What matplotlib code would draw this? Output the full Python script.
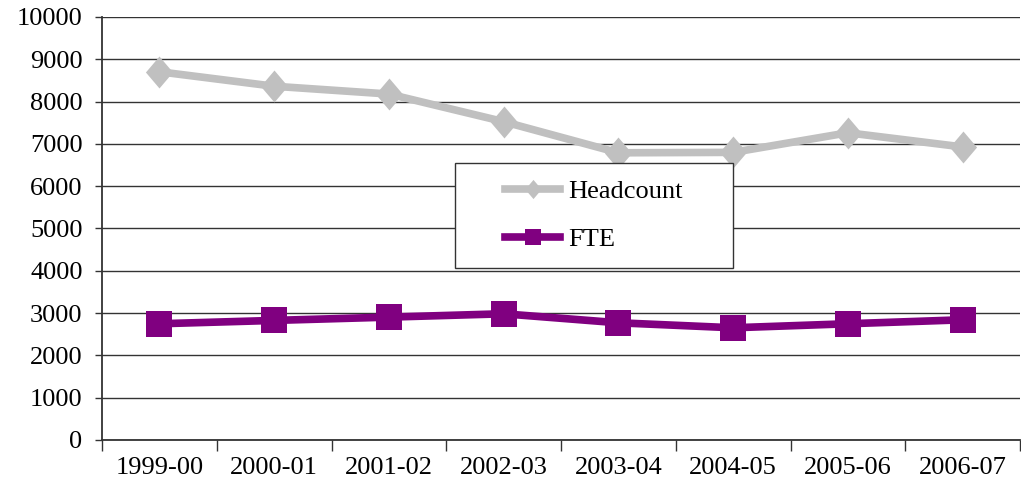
import matplotlib
matplotlib.use("Agg")
import matplotlib.pyplot as plt
from matplotlib.ticker import FixedLocator
from matplotlib.patches import Rectangle
from matplotlib.path import Path

categories = ["1999-00", "2000-01", "2001-02", "2002-03", "2003-04", "2004-05", "2005-06", "2006-07"]
headcount = [8705, 8363, 8179, 7526, 6790, 6800, 7263, 6928]
fte = [2748, 2827, 2905, 2984, 2771, 2653, 2748, 2842]
yticks = list(range(0, 10001, 1000))

plt.rcParams['font.family'] = ['Liberation Serif', 'DejaVu Serif']
FS = 19

diamond = Path([(0, 1), (0.85, 0), (0, -1), (-0.85, 0), (0, 1)],
               [Path.MOVETO, Path.LINETO, Path.LINETO, Path.LINETO, Path.CLOSEPOLY])

fig = plt.figure(figsize=(10.21, 4.93), dpi=100)
ax = fig.add_axes([102/1021, 1 - 440/493, (1020-102)/1021, (440-17)/493])

x = list(range(len(categories)))
ax.plot(x, headcount, color="#C0C0C0", lw=5.5, marker=diamond, markersize=23,
        markeredgewidth=0, label="Headcount", zorder=3)
ax.plot(x, fte, color="#800080", lw=5.5, marker="s", markersize=18.5,
        markeredgewidth=0, label="FTE", zorder=3)

ax.set_xlim(-0.5, len(categories) - 0.5)
ax.set_ylim(0, 10000)
ax.set_yticks(yticks)
ax.set_yticklabels([str(v) for v in yticks], fontsize=FS)
ax.yaxis.grid(True, color="#333333", lw=1)
ax.set_axisbelow(True)

ax.set_xticks(x)
ax.set_xticklabels(categories, fontsize=FS)
ax.tick_params(axis='x', length=0, pad=12)
ax.xaxis.set_minor_locator(FixedLocator([i - 0.5 for i in range(len(categories) + 1)]))
ax.tick_params(axis='x', which='minor', length=8, color="#333333", width=1)
ax.tick_params(axis='y', length=5, color="#333333", width=1, pad=9)

for s in ['top', 'right']:
    ax.spines[s].set_visible(False)
for s in ['left', 'bottom']:
    ax.spines[s].set_color("#333333")
    ax.spines[s].set_linewidth(1.3)

# legend box
box = Rectangle((0.3845, 0.407), 0.3025, 0.248, transform=ax.transAxes,
                facecolor="white", edgecolor="#333333", lw=1, zorder=5)
ax.add_patch(box)
leg = ax.legend(loc='center', bbox_to_anchor=(0.3845 + 0.3025/2, 0.407 + 0.248/2), fontsize=FS,
                frameon=False, handlelength=2.1, markerscale=0.6, borderpad=0, labelspacing=0.95,
                handletextpad=0.3, borderaxespad=0)
leg.set_zorder(6)

fig.savefig("out.png", dpi=100)
